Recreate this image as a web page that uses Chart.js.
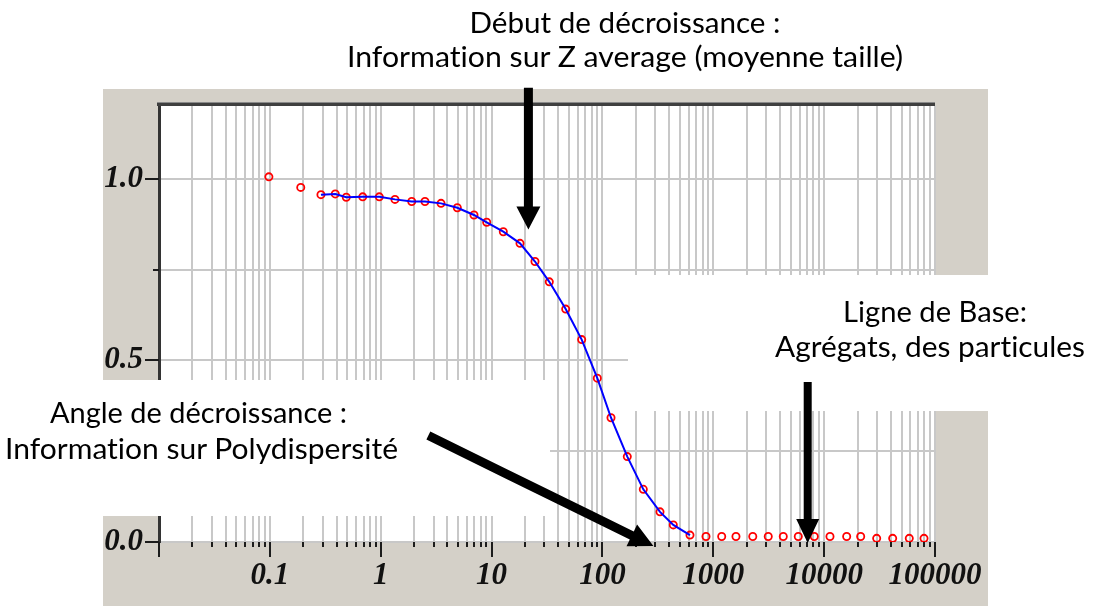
<!DOCTYPE html>
<html><head><meta charset="utf-8">
<script src="https://cdn.jsdelivr.net/npm/chart.js@4.4.1/dist/chart.umd.min.js"></script>
<style>
html,body{margin:0;padding:0;background:#fff;}
#wrap{position:relative;width:1094px;height:606px;overflow:hidden;}
#c{position:absolute;left:0;top:0;}
#ov{position:absolute;left:0;top:0;}
#ov text{font-variant-ligatures:none;font-feature-settings:"liga" 0, "clig" 0, "dlig" 0;}
</style></head><body>
<div id="wrap">
<canvas id="c" width="1094" height="606"></canvas>
<svg id="ov" width="1094" height="606" xmlns="http://www.w3.org/2000/svg">
  <rect x="0" y="380" width="550" height="136" fill="#fff"/>
  <rect x="628" y="275" width="466" height="136" fill="#fff"/>
  <g font-family="Lato, 'Open Sans', sans-serif" font-size="29.5" fill="#000" text-anchor="middle">
    <text x="625" y="33" textLength="311" lengthAdjust="spacingAndGlyphs">Début de décroissance :</text>
    <text x="625" y="67" textLength="556" lengthAdjust="spacingAndGlyphs">Information sur Z average (moyenne taille)</text>
    <text x="198.5" y="423" textLength="297" lengthAdjust="spacingAndGlyphs">Angle de décroissance :</text>
    <text x="201.5" y="459" textLength="393" lengthAdjust="spacingAndGlyphs">Information sur Polydispersité</text>
    <text x="935" y="322" textLength="184" lengthAdjust="spacingAndGlyphs">Ligne de Base:</text>
    <text x="930" y="357" textLength="310" lengthAdjust="spacingAndGlyphs">Agrégats, des particules</text>
  </g>
  <g id="arrows" fill="#000"></g>
</svg>
</div>
<script>
// ---- data ----
const xValues = [0.098, 0.19, 0.289, 0.389, 0.489, 0.688, 0.971, 1.345, 1.904, 2.508, 3.499, 4.908, 6.941, 9.036, 12.76, 18.05, 24.64, 33.17, 46.63, 65.0, 89.9, 119.5, 167.6, 233.7, 330.6, 435.8, 616.4, 859.6, 1191, 1602, 2271, 3132, 4279, 5844, 8147, 11290, 15970, 21360, 29780, 41520, 58610, 79570];
const yValues = [1.005, 0.976, 0.956, 0.958, 0.949, 0.950, 0.950, 0.943, 0.937, 0.937, 0.932, 0.920, 0.900, 0.880, 0.854, 0.822, 0.772, 0.716, 0.641, 0.557, 0.451, 0.342, 0.235, 0.145, 0.083, 0.047, 0.019, 0.015, 0.015, 0.015, 0.015, 0.015, 0.015, 0.015, 0.015, 0.015, 0.015, 0.015, 0.010, 0.010, 0.010, 0.010];
const fitFirstIndex = 2;   // fitted curve (blue) spans these measured points
const fitLastIndex = 26;
const xTickLabels = ['0.1', '1', '10', '100', '1000', '10000', '100000'];
const yTickLabels = ['0.0', '0.5', '1.0'];
const yGridValues = [0, 0.25, 0.5, 0.75, 1.0];
const xRange = [0.01, 100000];
const yRange = [0, 1.2];
// annotation arrows, in data units [x, y]
const arrows = [
  {from: [21.5, 1.25], to: [21.5, 0.86], shaft: 9, headL: 23, headW: 24},
  {from: [7100, 0.44], to: [7100, -0.003], shaft: 8, headL: 24, headW: 23},
  {from: [2.69, 0.293], to: [288, -0.011], shaft: 9, headL: 24, headW: 24}
];

// ---- derived ----
const xTickValues = [];
for (let e = Math.round(Math.log10(xRange[0])); e < Math.round(Math.log10(xRange[1])); e++) {
  for (let m = 1; m <= 9; m++) xTickValues.push(parseFloat((m * Math.pow(10, e)).toPrecision(6)));
}
xTickValues.push(xRange[1]);

const points = xValues.map((x, i) => ({x, y: yValues[i]}));
const fitPoints = points.slice(fitFirstIndex, fitLastIndex + 1);

const isMajorX = v => Math.abs(Math.log10(v) - Math.round(Math.log10(v))) < 1e-6;
const yLabelFor = v => yTickLabels.find(s => Math.abs(parseFloat(s) - v) < 1e-9);

const tickFont = {family: "'Liberation Serif', 'Times New Roman', serif", size: 31, weight: 'bold', style: 'italic'};

const panelPlugin = {
  id: 'panel',
  beforeDraw(chart) {
    const {ctx, chartArea: a} = chart;
    ctx.save();
    ctx.fillStyle = '#d4d0c8';
    ctx.fillRect(103, 89, 885, 517);
    ctx.fillStyle = '#ffffff';
    ctx.fillRect(a.left, a.top, a.right - a.left, a.bottom - a.top);
    ctx.restore();
  },
  afterDraw(chart) {
    const {ctx, chartArea: a} = chart;
    const xs = chart.scales.x, ys = chart.scales.y;
    ctx.save();
    // top frame
    ctx.fillStyle = '#8a8a8a';
    ctx.fillRect(a.left - 2, a.top - 4, a.right - a.left + 2, 1);
    ctx.fillStyle = '#3f3f3f';
    ctx.fillRect(a.left - 2, a.top - 3, a.right - a.left + 2, 3);
    // tick marks
    ctx.strokeStyle = '#1c1c1c';
    ctx.lineWidth = 2;
    xs.ticks.forEach(t => {
      const p = Math.round(xs.getPixelForValue(t.value));
      ctx.beginPath();
      ctx.moveTo(p, a.bottom);
      ctx.lineTo(p, a.bottom + (isMajorX(t.value) ? 15 : 5));
      ctx.stroke();
    });
    ys.ticks.forEach(t => {
      const p = Math.round(ys.getPixelForValue(t.value));
      ctx.beginPath();
      ctx.moveTo(a.left - (yLabelFor(t.value) ? 14 : 6), p);
      ctx.lineTo(a.left, p);
      ctx.stroke();
    });
    ctx.restore();
    drawArrows(chart);
  }
};

function drawArrows(chart) {
  const xs = chart.scales.x, ys = chart.scales.y;
  const g = document.getElementById('arrows');
  let html = '';
  arrows.forEach(ar => {
    const x1 = xs.getPixelForValue(ar.from[0]), y1 = ys.getPixelForValue(ar.from[1]);
    const x2 = xs.getPixelForValue(ar.to[0]), y2 = ys.getPixelForValue(ar.to[1]);
    const len = Math.hypot(x2 - x1, y2 - y1);
    const ux = (x2 - x1) / len, uy = (y2 - y1) / len;
    const nx = -uy, ny = ux;
    const bx = x2 - ux * ar.headL, by = y2 - uy * ar.headL;
    const s = ar.shaft / 2, h = ar.headW / 2;
    const pts = [
      [x1 + nx * s, y1 + ny * s], [bx + nx * s, by + ny * s], [bx + nx * h, by + ny * h],
      [x2, y2],
      [bx - nx * h, by - ny * h], [bx - nx * s, by - ny * s], [x1 - nx * s, y1 - ny * s]
    ];
    html += '<polygon points="' + pts.map(p => p[0].toFixed(1) + ',' + p[1].toFixed(1)).join(' ') + '"/>';
  });
  g.innerHTML = html;
}

new Chart(document.getElementById('c'), {
  type: 'scatter',
  data: {
    datasets: [
      {
        label: 'Ajustement',
        data: fitPoints,
        showLine: true,
        borderColor: '#0000ff',
        borderWidth: 2,
        pointRadius: 0,
        tension: 0,
        fill: false
      },
      {
        label: 'Mesures',
        data: points,
        showLine: false,
        pointStyle: 'circle',
        pointRadius: 3.6,
        pointBorderWidth: 1.8,
        borderColor: '#ff0000',
        backgroundColor: 'rgba(255,255,255,0)'
      }
    ]
  },
  plugins: [panelPlugin],
  options: {
    responsive: false,
    animation: false,
    devicePixelRatio: 1,
    layout: {padding: {left: 0, top: 106, right: 159, bottom: 0}},
    plugins: {legend: {display: false}, tooltip: {enabled: false}},
    scales: {
      x: {
        type: 'logarithmic',
        min: xRange[0],
        max: xRange[1],
        afterBuildTicks: s => { s.ticks = xTickValues.map(v => ({value: v})); },
        afterFit: s => { s.height = 64; },
        ticks: {
          autoSkip: false,
          maxRotation: 0,
          minRotation: 0,
          padding: 15,
          color: '#111',
          font: tickFont,
          callback: v => xTickLabels.find(s => Math.abs(Math.log10(parseFloat(s)) - Math.log10(v)) < 1e-6) || ''
        },
        grid: {color: '#c8c8c8', lineWidth: 2, drawTicks: false},
        border: {color: '#c8c8c8', width: 2}
      },
      y: {
        min: yRange[0],
        max: yRange[1],
        afterBuildTicks: s => { s.ticks = yGridValues.map(v => ({value: v})); },
        afterFit: s => { s.width = 159; },
        ticks: {
          autoSkip: false,
          padding: 16,
          color: '#111',
          font: tickFont,
          callback: v => yLabelFor(v) || ''
        },
        grid: {color: '#c8c8c8', lineWidth: 2, drawTicks: false},
        border: {color: '#333333', width: 3}
      }
    }
  }
});
</script>
</body></html>
